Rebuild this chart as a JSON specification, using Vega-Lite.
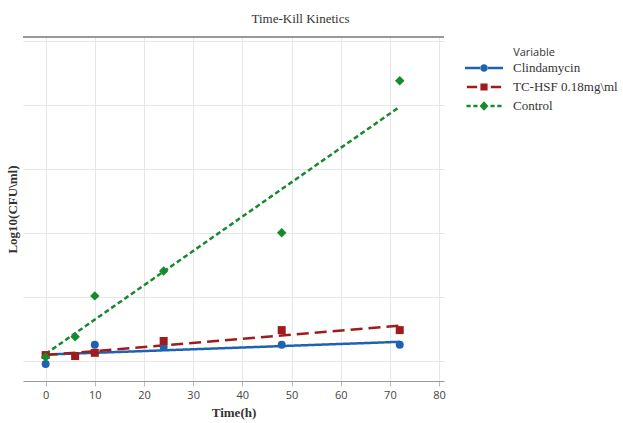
{
  "$schema": "https://vega.github.io/schema/vega-lite/v6.json",
  "autosize": {"type": "none"},
  "width": 421,
  "height": 344,
  "padding": {"left": 23, "top": 37, "right": 179, "bottom": 42},
  "background": "white",
  "config": {"view": {"stroke": null}},
  "title": {"text": "Time-Kill Kinetics", "font": "Liberation Serif", "fontSize": 13, "fontWeight": "normal", "color": "#333", "anchor": "middle", "dx": 67, "dy": 15, "offset": 15, "baseline": "alphabetic"},
  "data": {"values": [
    {"Variable": "Clindamycin", "Time": 0, "Value": -0.08},
    {"Variable": "Clindamycin", "Time": 10, "Value": 0.52},
    {"Variable": "Clindamycin", "Time": 24, "Value": 0.45},
    {"Variable": "Clindamycin", "Time": 48, "Value": 0.52},
    {"Variable": "Clindamycin", "Time": 72, "Value": 0.52},
    {"Variable": "TC-HSF 0.18mg\\ml", "Time": 0, "Value": 0.2},
    {"Variable": "TC-HSF 0.18mg\\ml", "Time": 6, "Value": 0.17},
    {"Variable": "TC-HSF 0.18mg\\ml", "Time": 10, "Value": 0.27},
    {"Variable": "TC-HSF 0.18mg\\ml", "Time": 24, "Value": 0.64},
    {"Variable": "TC-HSF 0.18mg\\ml", "Time": 48, "Value": 0.98},
    {"Variable": "TC-HSF 0.18mg\\ml", "Time": 72, "Value": 0.98},
    {"Variable": "Control", "Time": 0, "Value": 0.14},
    {"Variable": "Control", "Time": 6, "Value": 0.77},
    {"Variable": "Control", "Time": 10, "Value": 2.05},
    {"Variable": "Control", "Time": 24, "Value": 2.83},
    {"Variable": "Control", "Time": 48, "Value": 4.02},
    {"Variable": "Control", "Time": 72, "Value": 8.77}
  ]},
  "encoding": {
    "x": {"field": "Time", "type": "quantitative", "scale": {"domain": [-4.6, 81], "nice": false, "zero": false},
      "axis": {"values": [0, 10, 20, 30, 40, 50, 60, 70, 80], "grid": true, "gridColor": "#e6e6e6", "domainColor": "#999", "tickColor": "#bbb", "tickSize": 5, "labelFont": "Open Sans", "labelFontSize": 11, "labelColor": "#444", "labelPadding": 3, "title": "Time(h)", "titleFont": "Liberation Serif", "titleFontSize": 13, "titleFontWeight": "bold", "titleColor": "#333", "titlePadding": 6}},
    "y": {"field": "Value", "type": "quantitative", "scale": {"domain": [-0.61, 10.14], "nice": false, "zero": false},
      "axis": {"values": [0, 2, 4, 6, 8, 10], "grid": true, "gridColor": "#e6e6e6", "labels": false, "ticks": false, "domain": false, "title": "Log10(CFU\\ml)", "titleFont": "Liberation Serif", "titleFontSize": 13, "titleFontWeight": "bold", "titleColor": "#333", "titlePadding": 4}}
  },
  "layer": [
    {
      "mark": {"type": "point", "filled": true, "opacity": 0},
      "encoding": {
        "color": {"field": "Variable", "type": "nominal",
          "scale": {"domain": ["Clindamycin", "TC-HSF 0.18mg\\ml", "Control"], "range": ["#1e63b3", "#a01c1c", "#188a2e"]},
          "legend": {"orient": "none", "legendX": 451, "legendY": 10, "title": "Variable", "titleAnchor": "middle", "titleFont": "Open Sans", "titleFontSize": 11, "titleFontWeight": "normal", "titleColor": "#333", "titlePadding": 0, "labelFont": "Liberation Serif", "labelFontSize": 13, "labelColor": "#333", "labelOffset": 19, "rowPadding": 2, "symbolSize": 400, "symbolStrokeWidth": 0, "symbolOpacity": 1, "padding": 0, "labelLimit": 300,
            "encode": {"symbols": {"update": {"opacity": {"value": 1}}}, "title": {"update": {"dx": {"value": -12}}}}}},
        "shape": {"field": "Variable", "type": "nominal",
          "scale": {"domain": ["Clindamycin", "TC-HSF 0.18mg\\ml", "Control"], "range": [
            "M-1.9,-0.125H-0.34V0.125H-1.9Z M0.34,-0.125H1.9V0.125H0.34Z M-0.38,0A0.38,0.38 0 1,0 0.38,0A0.38,0.38 0 1,0 -0.38,0Z",
            "M-1.71,-0.125H-0.68V0.125H-1.71Z M0.68,-0.125H1.71V0.125H0.68Z M-0.36,-0.36H0.36V0.36H-0.36Z",
            "M-1.75,-0.125H-1.33V0.125H-1.75Z M-1.06,-0.125H-0.65V0.125H-1.06Z M0.65,-0.125H1.06V0.125H0.65Z M1.33,-0.125H1.75V0.125H1.33Z M0,-0.48L0.44,0L0,0.48L-0.44,0Z"
          ]},
          "legend": {"orient": "none", "legendX": 451, "legendY": 10, "title": "Variable", "titleAnchor": "middle", "titleFont": "Open Sans", "titleFontSize": 11, "titleFontWeight": "normal", "titleColor": "#333", "titlePadding": 0, "labelFont": "Liberation Serif", "labelFontSize": 13, "labelColor": "#333", "labelOffset": 19, "rowPadding": 2, "symbolSize": 400, "symbolStrokeWidth": 0, "symbolOpacity": 1, "padding": 0, "labelLimit": 300,
            "encode": {"symbols": {"update": {"opacity": {"value": 1}}}, "title": {"update": {"dx": {"value": -12}}}}}}
      }
    },
    {
      "mark": {"type": "rule", "color": "#999", "strokeWidth": 1.5},
      "encoding": {"x": {"datum": -4.6}, "x2": {"datum": 81}, "y": {"datum": 10.14}}
    },
    {
      "transform": [{"regression": "Value", "on": "Time", "groupby": ["Variable"], "extent": [0, 72]}],
      "mark": {"type": "line", "strokeWidth": 2.5},
      "encoding": {
        "color": {"field": "Variable", "type": "nominal"},
        "strokeDash": {"field": "Variable", "type": "nominal", "scale": {"domain": ["Clindamycin", "TC-HSF 0.18mg\\ml", "Control"], "range": [[1, 0], [12, 6], [5, 3]]}, "legend": null}
      }
    },
    {
      "transform": [{"filter": {"field": "Variable", "equal": "Clindamycin"}}],
      "mark": {"type": "point", "filled": true, "opacity": 1, "shape": "circle", "size": 64},
      "encoding": {"color": {"field": "Variable", "type": "nominal"}}
    },
    {
      "transform": [{"filter": {"field": "Variable", "equal": "TC-HSF 0.18mg\\ml"}}],
      "mark": {"type": "point", "filled": true, "opacity": 1, "shape": "square", "size": 64},
      "encoding": {"color": {"field": "Variable", "type": "nominal"}}
    },
    {
      "transform": [{"filter": {"field": "Variable", "equal": "Control"}}],
      "mark": {"type": "point", "filled": true, "opacity": 1, "shape": "diamond", "size": 90},
      "encoding": {"color": {"field": "Variable", "type": "nominal"}}
    }
  ]
}
